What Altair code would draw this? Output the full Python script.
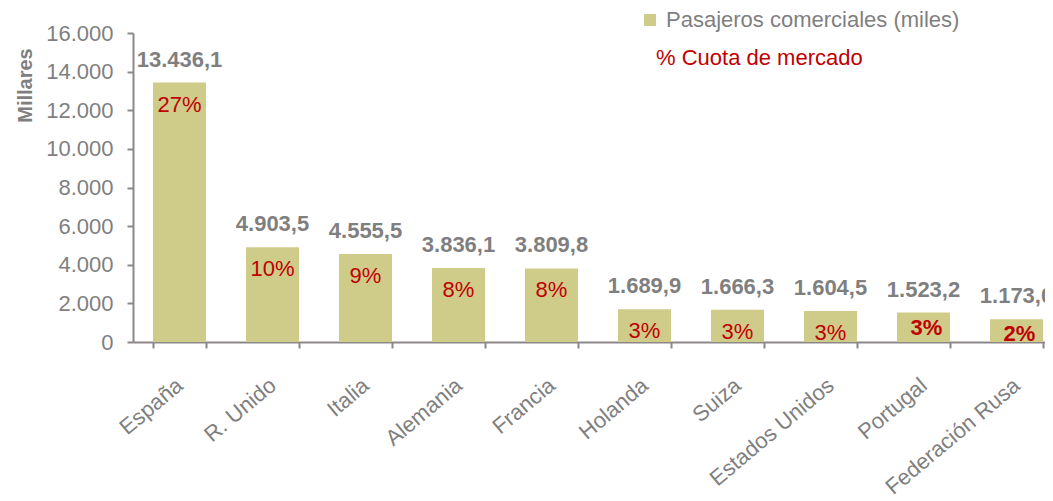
import altair as alt
import pandas as pd

countries = ["España", "R. Unido", "Italia", "Alemania", "Francia", "Holanda",
             "Suiza", "Estados Unidos", "Portugal", "Federación Rusa"]
pasajeros = [13436.1, 4903.5, 4555.5, 3836.1, 3809.8, 1689.9, 1666.3, 1604.5, 1523.2, 1173.0]
cuota = [27, 10, 9, 8, 8, 3, 3, 3, 3, 2]
y_ticks = [0, 2000, 4000, 6000, 8000, 10000, 12000, 14000, 16000]

def es_fmt(v):
    return f"{v:,.1f}".replace(",", "X").replace(".", ",").replace("X", ".")

df = pd.DataFrame({
    "pais": countries,
    "pasajeros": pasajeros,
    "cuota": [f"{c}%" for c in cuota],
    "etiqueta": [es_fmt(v) for v in pasajeros],
    "serie": ["Pasajeros comerciales (miles)"] * len(countries),
})

FONT = "Liberation Sans"
GRAY = "#7f7f7f"
AXIS = "#8c8789"
RED = "#c00000"
BAR = "#cfcb89"
FS = 22
BOLD_TEST = "datum.pais == 'Portugal' || datum.pais == 'Federación Rusa'"

x_axis = alt.Axis(labelAngle=-40, labelAlign="right", labelBaseline="middle",
                  labelFontSize=FS, labelColor=GRAY, labelFont=FONT,
                  labelPadding=34, tickSize=6, tickBand="extent",
                  labelOverlap=False, labelLimit=0,
                  domainColor=AXIS, tickColor=AXIS, domainWidth=2, tickWidth=2)
x_scale = alt.Scale(paddingInner=0.43, paddingOuter=0.215, range=[0, 930])
y_axis = alt.Axis(values=y_ticks, grid=False, title="Millares",
                  labelExpr="replace(format(datum.value, ',d'), ',', '.')",
                  labelFontSize=FS, labelColor=GRAY, labelFont=FONT, labelPadding=14,
                  labelOverlap=False, labelLimit=0,
                  tickSize=6, domainColor=AXIS, tickColor=AXIS, domainWidth=2, tickWidth=2,
                  titleFont=FONT, titleFontSize=20, titleFontWeight="bold", titleColor=GRAY,
                  titleAngle=-90, titleX=-108, titleY=52, titleAlign="center",
                  titleBaseline="middle")
y_scale = alt.Scale(domain=[0, 16000], nice=False)

def X():
    return alt.X("pais:N", sort=countries, title=None, scale=x_scale, axis=x_axis)

def Y():
    return alt.Y("pasajeros:Q", title="Millares", scale=y_scale, axis=y_axis)

bars = alt.Chart(df).mark_bar(color=BAR).encode(
    x=X(), y=Y(),
    color=alt.Color("serie:N", scale=alt.Scale(range=[BAR]),
                    legend=alt.Legend(title=None, orient="none", legendX=506, legendY=-24,
                                      symbolType="square", symbolSize=144, symbolStrokeWidth=0,
                                      symbolFillColor=BAR, labelFontSize=FS, labelColor=GRAY,
                                      labelFont=FONT, labelOffset=5, labelLimit=0, padding=0)),
)

vals = alt.Chart(df).mark_text(font=FONT, fontSize=FS, fontWeight="bold", color=GRAY,
                               baseline="alphabetic", dy=-16).encode(
    x=X(), y=Y(), text="etiqueta:N",
)

pct_normal = alt.Chart(df).transform_filter("!(" + BOLD_TEST + ")").mark_text(
    font=FONT, fontSize=FS, color=RED, baseline="middle", dy=22).encode(
    x=X(), y=Y(), text="cuota:N",
)
pct_bold = alt.Chart(df).transform_filter(BOLD_TEST).mark_text(
    font=FONT, fontSize=FS, fontWeight="bold", color=RED, baseline="middle", dy=15, dx=3).encode(
    x=X(), y=Y(), text="cuota:N",
)

leg2 = alt.Chart(pd.DataFrame({"t": ["% Cuota de mercado"]})).mark_text(
    font=FONT, fontSize=FS, color=RED, align="left", baseline="middle").encode(
    x=alt.value(523), y=alt.value(25), text="t:N")

chart = alt.layer(bars, vals, pct_normal, pct_bold, leg2).properties(
    width=912, height=309,
    autosize=alt.AutoSizeParams(type="none"),
    padding={"left": 125, "top": 25, "right": 0, "bottom": 158},
).configure_view(stroke=None)

chart.save("out.html", embed_options={"renderer": "svg", "actions": False})
